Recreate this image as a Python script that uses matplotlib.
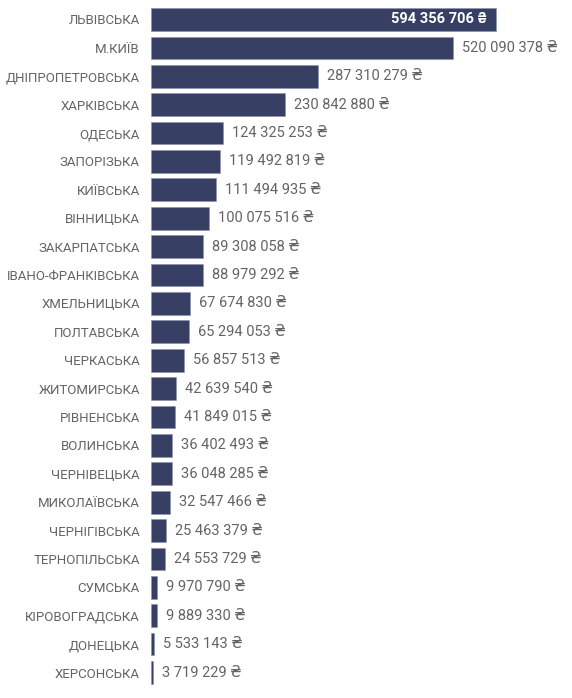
import matplotlib
matplotlib.use("Agg")
import matplotlib.pyplot as plt

regions = ["ЛЬВІВСЬКА", "М.КИЇВ", "ДНІПРОПЕТРОВСЬКА", "ХАРКІВСЬКА", "ОДЕСЬКА",
           "ЗАПОРІЗЬКА", "КИЇВСЬКА", "ВІННИЦЬКА", "ЗАКАРПАТСЬКА", "ІВАНО-ФРАНКІВСЬКА",
           "ХМЕЛЬНИЦЬКА", "ПОЛТАВСЬКА", "ЧЕРКАСЬКА", "ЖИТОМИРСЬКА", "РІВНЕНСЬКА",
           "ВОЛИНСЬКА", "ЧЕРНІВЕЦЬКА", "МИКОЛАЇВСЬКА", "ЧЕРНІГІВСЬКА", "ТЕРНОПІЛЬСЬКА",
           "СУМСЬКА", "КІРОВОГРАДСЬКА", "ДОНЕЦЬКА", "ХЕРСОНСЬКА"]
amounts = [594356706, 520090378, 287310279, 230842880, 124325253,
           119492819, 111494935, 100075516, 89308058, 88979292,
           67674830, 65294053, 56857513, 42639540, 41849015,
           36402493, 36048285, 32547466, 25463379, 24553729,
           9970790, 9889330, 5533143, 3719229]

BAR = "#373F64"
GREY = "#646464"
FAM = ["Roboto", "DejaVu Sans"]

def fmt(v):
    return "{:,}".format(v).replace(",", " ") + " ₴"

fig = plt.figure(figsize=(5.72, 6.98), dpi=100)
ax = fig.add_axes([151/572, 1-686.7/698, (562-151)/572, (686.7-5.3)/698])
ypos = list(range(len(regions)))
ax.barh(ypos, amounts, height=0.8, color=BAR, edgecolor="#8E93AC", linewidth=0.4)
ax.set_ylim(len(regions)-0.5, -0.5)
xmax = 411/345*amounts[0]
ax.set_xlim(0, xmax)
ax.set_yticks(ypos)
ax.set_yticklabels(regions, fontsize=9.5, color=GREY, family=FAM)
ax.tick_params(axis="y", length=0, pad=8)
ax.set_xticks([])
for s in ax.spines.values():
    s.set_visible(False)

off = xmax * 9/411
for i, v in enumerate(amounts):
    if i == 0:
        ax.text(v - off, i, fmt(v), ha="right", va="center", color="white",
                fontsize=10.5, fontweight="bold", family=FAM)
    else:
        ax.text(v + off, i, fmt(v), ha="left", va="center", color=GREY,
                fontsize=10.5, family=FAM)

fig.savefig("out.png", dpi=100, facecolor="white")
